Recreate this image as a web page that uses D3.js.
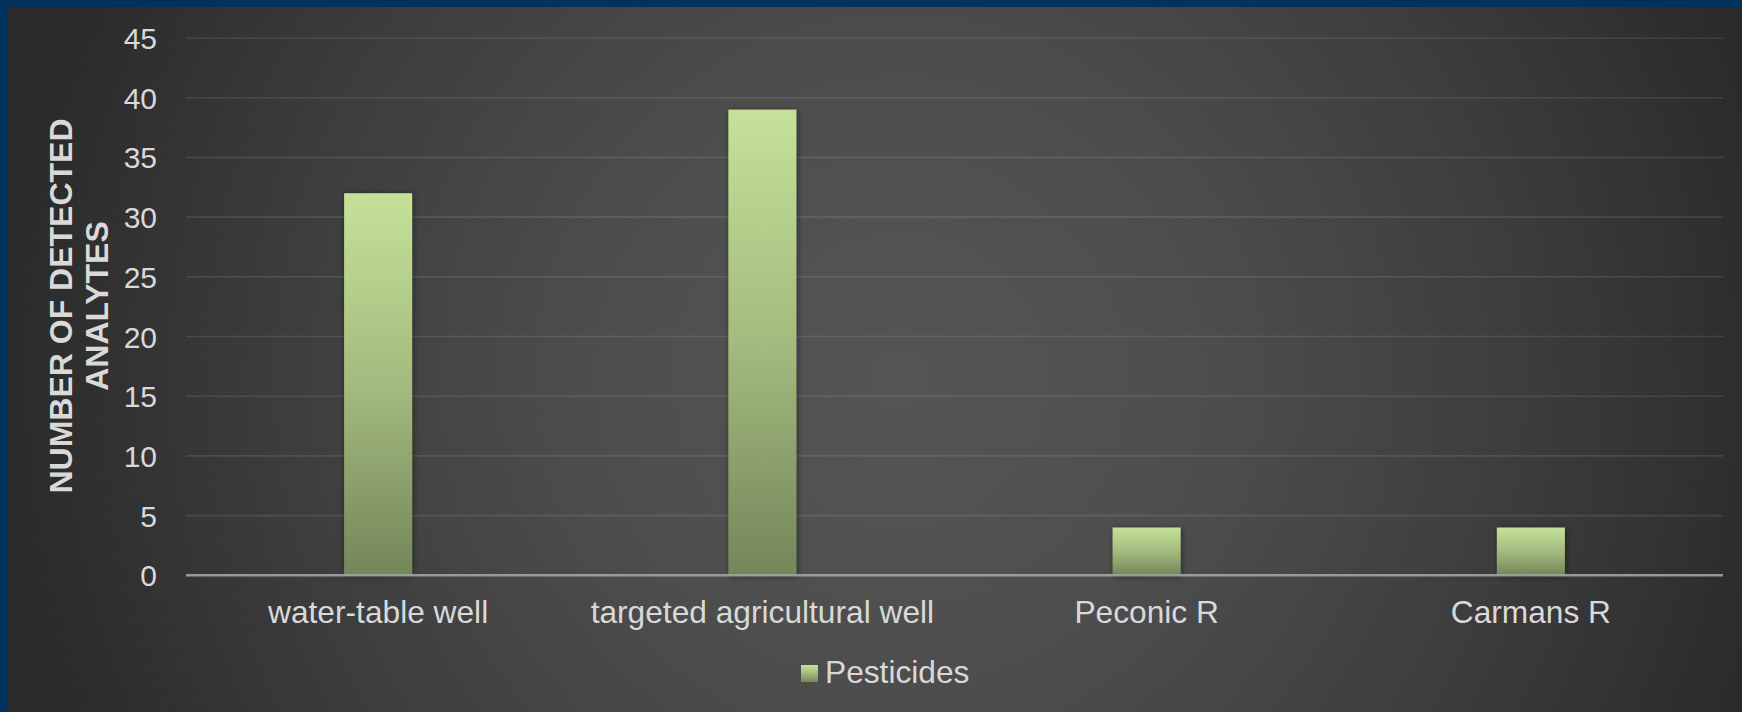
<!DOCTYPE html>
<html>
<head>
<meta charset="utf-8">
<script src="https://cdn.jsdelivr.net/npm/d3@7"></script>
<style>
  html, body { margin: 0; padding: 0; background: #2a2a2a; }
  svg { display: block; }
  text { font-family: "Liberation Sans", Arial, sans-serif; }
</style>
</head>
<body>
<svg id="chart" width="1742" height="712"></svg>
<script>
const categories = ["water-table well", "targeted agricultural well", "Peconic R", "Carmans R"];
const seriesName = "Pesticides";
const values = [32, 39, 4, 4];
const yTicks = [0, 5, 10, 15, 20, 25, 30, 35, 40, 45];
const yTitleLines = ["NUMBER OF DETECTED", "ANALYTES"];

const W = 1742, H = 712;
const svg = d3.select("#chart");
const defs = svg.append("defs");

// background radial gradient
const bg = defs.append("radialGradient").attr("id", "bg")
  .attr("gradientUnits", "userSpaceOnUse")
  .attr("cx", 900).attr("cy", 380).attr("r", 900);
[[0, "#555555"], [0.35, "#4d4d4d"], [0.7, "#3c3c3c"], [1, "#2a2a2a"]].forEach(([o, c]) =>
  bg.append("stop").attr("offset", o).attr("stop-color", c));

const bar = defs.append("linearGradient").attr("id", "barGrad")
  .attr("x1", 0).attr("y1", 0).attr("x2", 0).attr("y2", 1);
[[0, "#c5e199"], [0.5, "#a3bb7e"], [1, "#74865a"]].forEach(([o, c]) =>
  bar.append("stop").attr("offset", o).attr("stop-color", c));

const shadow = defs.append("filter").attr("id", "shadow")
  .attr("x", "-30%").attr("y", "-10%").attr("width", "160%").attr("height", "130%");
shadow.append("feDropShadow").attr("dx", 1).attr("dy", 1).attr("stdDeviation", 3)
  .attr("flood-color", "#000").attr("flood-opacity", 0.45);

svg.append("rect").attr("width", W).attr("height", H).attr("fill", "#2a2a2a");
svg.append("rect").attr("width", W).attr("height", H).attr("fill", "url(#bg)");
// navy border top and left
svg.append("rect").attr("x", 0).attr("y", 0).attr("width", W).attr("height", 7).attr("fill", "#01325e");
svg.append("rect").attr("x", 0).attr("y", 0).attr("width", 8).attr("height", H).attr("fill", "#01325e");

const x0 = 186, x1 = 1723, yTop = 38, yBot = 575.3;
const x = d3.scaleBand().domain(categories).range([x0, x1]).paddingInner(0.823).paddingOuter(0.4115);
const y = d3.scaleLinear().domain([0, 45]).range([yBot, yTop]);

// gridlines
svg.append("g").selectAll("line").data(yTicks.filter(d => d > 0)).join("line")
  .attr("x1", x0).attr("x2", x1)
  .attr("y1", d => y(d)).attr("y2", d => y(d))
  .attr("stroke", "rgba(255,255,255,0.1)").attr("stroke-width", 1.6);

// y tick labels
const yAxis = d3.axisLeft(y).tickValues(yTicks).tickSize(0).tickPadding(0);
const gy = svg.append("g").attr("transform", `translate(157,0)`).call(yAxis);
gy.select(".domain").remove();
gy.selectAll("text").attr("fill", "#d9d9d9").attr("font-size", 30)
  .attr("font-family", '"Liberation Sans", Arial, sans-serif').attr("dy", "0.35em");

// bars
svg.append("g").selectAll("rect").data(values).join("rect")
  .attr("x", (d, i) => x(categories[i]))
  .attr("width", x.bandwidth())
  .attr("y", d => y(d))
  .attr("height", d => y(0) - y(d))
  .attr("fill", "url(#barGrad)")
  .attr("filter", "url(#shadow)");

// x axis line
svg.append("line").attr("x1", x0).attr("x2", x1).attr("y1", yBot).attr("y2", yBot)
  .attr("stroke", "#a3a3a3").attr("stroke-opacity", 0.9).attr("stroke-width", 2.4);

// category labels
const xAxis = d3.axisBottom(x).tickSize(0).tickPadding(0);
const gx = svg.append("g").attr("transform", `translate(0,623)`).call(xAxis);
gx.select(".domain").remove();
gx.selectAll("text").attr("fill", "#d9d9d9").attr("font-size", 31.7).attr("dy", 0)
  .attr("font-family", '"Liberation Sans", Arial, sans-serif');

// y title
const yt = svg.append("text").attr("transform", "translate(0,306) rotate(-90)")
  .attr("text-anchor", "middle").attr("fill", "#d9d9d9")
  .attr("font-size", 32).attr("font-weight", "bold");
yTitleLines.forEach((t, i) => {
  yt.append("tspan").attr("x", 0).attr("y", 72 + i * 36).text(t);
});

// legend
const lg = svg.append("g");
lg.append("rect").attr("x", 801).attr("y", 665).attr("width", 17).attr("height", 17)
  .attr("fill", "url(#barGrad)");
lg.append("text").attr("x", 825).attr("y", 683).attr("fill", "#d9d9d9")
  .attr("font-size", 31.7).text(seriesName);
</script>
</body>
</html>
